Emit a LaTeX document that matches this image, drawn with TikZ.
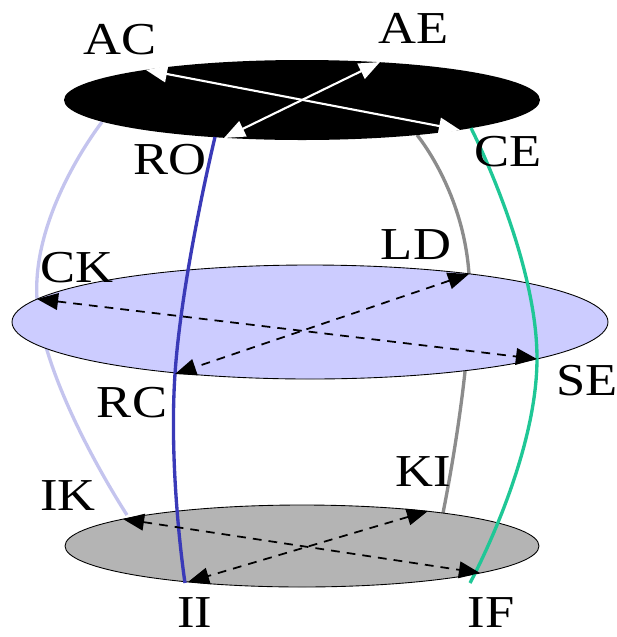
\documentclass[tikz,border=0pt]{standalone}
\usepackage{fontspec}
\setmainfont{Liberation Serif}[FakeStretch=1.15]
\usetikzlibrary{arrows.meta}
\definecolor{diskmid}{HTML}{CCCCFF}
\definecolor{disklow}{HTML}{B4B4B4}
\definecolor{lineblue}{HTML}{3A3AB8}
\definecolor{linegreen}{HTML}{1FC796}
\definecolor{linegrey}{HTML}{8C8C8C}
\definecolor{linelav}{HTML}{C4C4EE}
\begin{document}
\begin{tikzpicture}[x=0.02cm,y=-0.02cm,
  >={Triangle[length=12pt,width=9.5pt]},
  lbl/.style={font=\fontsize{26}{30}\selectfont,inner sep=0pt},
  cross/.style={<->,line width=1pt,dash pattern=on 5pt off 4pt},
  thread/.style={line width=1.9pt}]
  \useasboundingbox (0,0) rectangle (617,637);
  % points on the top disk
  \coordinate (AC) at (146,70);
  \coordinate (AE) at (380,62);
  \coordinate (RO) at (224,138);
  \coordinate (CE) at (460,130);
  % points on the middle disk
  \coordinate (CK) at (37,299);
  \coordinate (LD) at (469,274);
  \coordinate (SE) at (537,359);
  \coordinate (RC) at (175,374);
  % points on the bottom disk
  \coordinate (IK) at (123,519);
  \coordinate (KI) at (428,511);
  \coordinate (II) at (188,582);
  \coordinate (IF) at (480,573);
  % ends of the threads
  \coordinate (LavTop) at (102,122);
  \coordinate (LavLow) at (127,515);
  \coordinate (GreyTop) at (417,135);
  \coordinate (GreyLow) at (443,513);
  \coordinate (BlueTop) at (215,137);
  \coordinate (BlueLow) at (185,583);
  \coordinate (GreenTop) at (471,128);
  \coordinate (GreenLow) at (470,583);
  \draw[thread,linelav] plot[smooth,tension=0.8] coordinates {(LavTop) (CK) (LavLow)};
  \draw[thread,linegrey] plot[smooth,tension=0.8] coordinates {(GreyTop) (LD) (GreyLow)};
  \fill[black] (302,100) ellipse [x radius=238,y radius=40];
  \draw[line width=0.5pt,fill=diskmid] (310,322) ellipse [x radius=298,y radius=57];
  \draw[line width=0.5pt,fill=disklow] (302,546) ellipse [x radius=237,y radius=41];
  \draw[thread,lineblue] plot[smooth,tension=0.8] coordinates {(BlueTop) (RC) (BlueLow)};
  \draw[thread,linegreen] plot[smooth,tension=0.8] coordinates {(GreenTop) (SE) (GreenLow)};
  \draw[<->,white,line width=1.2pt] (AC) -- (CE);
  \draw[<->,white,line width=1.2pt] (AE) -- (RO);
  \draw[cross] (CK) -- (SE);
  \draw[cross] (LD) -- (RC);
  \draw[cross] (IK) -- (IF);
  \draw[cross] (KI) -- (II);
  \node[lbl] (LabAC) at (120,40) {AC};
  \node[lbl] (LabAE) at (414,28) {AE};
  \node[lbl] (LabRO) at (170,160) {RO};
  \node[lbl] (LabCE) at (508,152) {CE};
  \node[lbl] (LabCK) at (77,268) {CK};
  \node[lbl] (LabLD) at (416,245) {LD};
  \node[lbl] (LabSE) at (587,381) {SE};
  \node[lbl] (LabRC) at (132,403) {RC};
  \node[lbl] (LabIK) at (68,496) {IK};
  \node[lbl] (LabKI) at (423,472) {KI};
  \node[lbl] (LabII) at (195,613) {II};
  \node[lbl] (LabIF) at (491,613) {IF};
\end{tikzpicture}
\end{document}
